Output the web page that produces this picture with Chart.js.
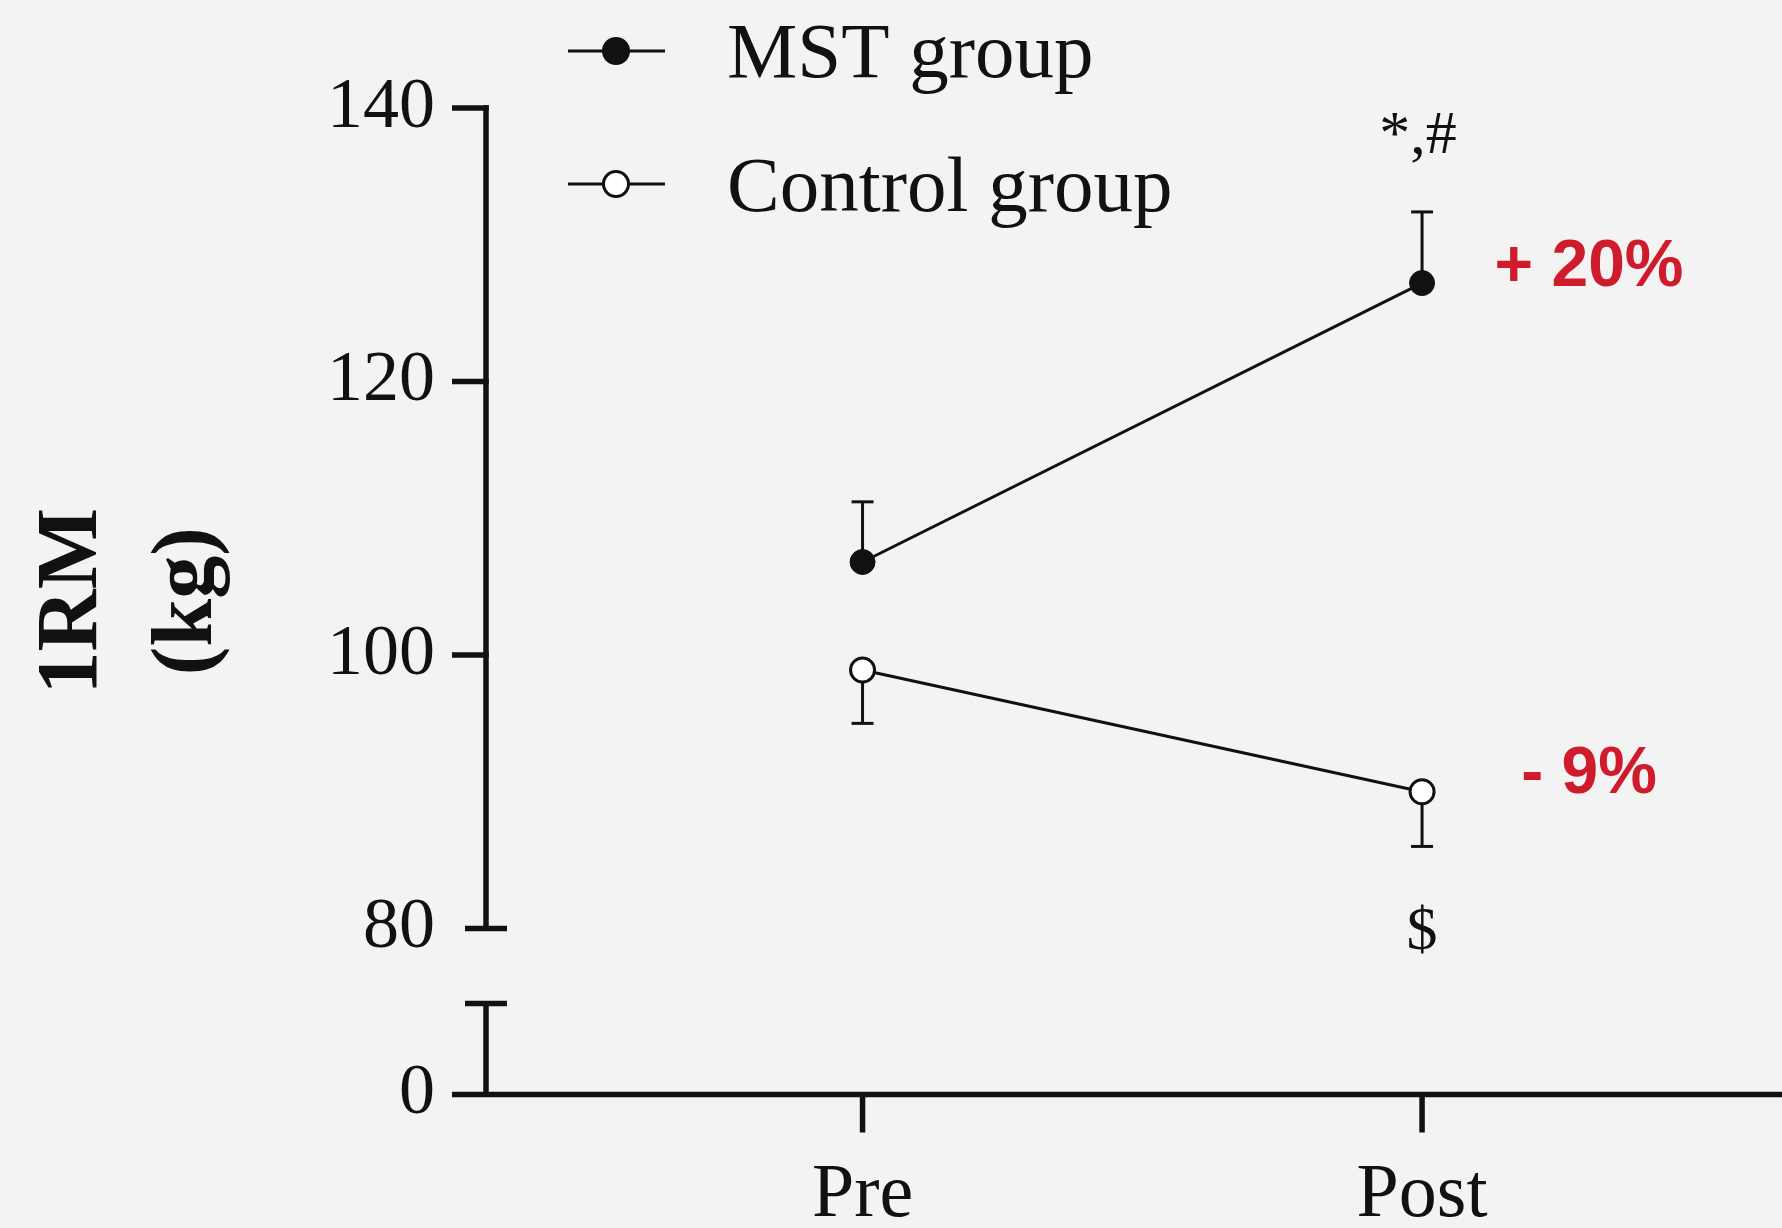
<!DOCTYPE html>
<html><head><meta charset="utf-8">
<script src="https://cdn.jsdelivr.net/npm/chart.js@4"></script>
<style>html,body{margin:0;padding:0;background:#f3f3f3;overflow:hidden}#wrap{width:1782px;height:1228px}</style>
</head><body><div id="wrap"><canvas id="c" width="1782" height="1228"></canvas></div>
<script>
const categories = ['Pre', 'Post'];
const mstMean = [106.8, 127.2];
const mstSD = [4.4, 5.2];
const controlMean = [98.9, 90.0];
const controlSD = [3.9, 4.0];
const yTickValues = [80, 100, 120, 140];
const axisBaseValue = 67.86;   // value where the broken axis shows "0"
const breakTopValue = 74.52;   // top of the lower axis segment
const seriesNames = ['MST group', 'Control group'];
const changeLabels = ['+ 20%', '- 9%'];
const sigLabels = ['*,#', '$'];

const INK = '#111';
const RED = '#cf1b2b';

const decor = {
  id: 'decor',
  beforeDatasetsDraw(chart) {
    const ctx = chart.ctx, xs = chart.scales.x, ys = chart.scales.y;
    const ax = xs.left;
    ctx.save();
    ctx.strokeStyle = INK; ctx.lineCap = 'butt';
    ctx.lineWidth = 5.5;
    // upper y-axis segment
    ctx.beginPath();
    ctx.moveTo(ax, ys.getPixelForValue(140) - 2.75);
    ctx.lineTo(ax, ys.getPixelForValue(80));
    ctx.stroke();
    yTickValues.forEach(v => {
      const y = ys.getPixelForValue(v);
      ctx.beginPath();
      if (v === 80) { ctx.moveTo(ax - 21, y); ctx.lineTo(ax + 21, y); }
      else { ctx.moveTo(ax - 34, y); ctx.lineTo(ax + 2.75, y); }
      ctx.stroke();
    });
    // lower segment
    const yb = ys.getPixelForValue(breakTopValue), y0 = ys.getPixelForValue(axisBaseValue);
    ctx.beginPath(); ctx.moveTo(ax, yb); ctx.lineTo(ax, y0); ctx.stroke();
    ctx.beginPath(); ctx.moveTo(ax - 21, yb); ctx.lineTo(ax + 21, yb); ctx.stroke();
    // x axis
    ctx.beginPath(); ctx.moveTo(ax - 34, y0); ctx.lineTo(chart.width, y0); ctx.stroke();
    categories.forEach((c, i) => {
      const x = xs.getPixelForValue(i);
      ctx.beginPath(); ctx.moveTo(x, y0); ctx.lineTo(x, y0 + 38); ctx.stroke();
    });
    // error bars
    ctx.lineWidth = 3;
    const errs = [[mstMean, mstSD, -1], [controlMean, controlSD, 1]];
    errs.forEach(([m, sd, dir]) => {
      m.forEach((v, i) => {
        const x = xs.getPixelForValue(i);
        const y1 = ys.getPixelForValue(v);
        const y2 = ys.getPixelForValue(v - dir * sd[i]);
        ctx.beginPath(); ctx.moveTo(x, y1); ctx.lineTo(x, y2); ctx.stroke();
        ctx.beginPath(); ctx.moveTo(x - 11, y2); ctx.lineTo(x + 11, y2); ctx.stroke();
      });
    });
    ctx.restore();
  },
  afterDraw(chart) {
    const ctx = chart.ctx, xs = chart.scales.x, ys = chart.scales.y;
    ctx.save();
    const xp = xs.getPixelForValue(1);
    // percentage labels
    ctx.fillStyle = RED;
    ctx.font = 'bold 66px "Liberation Sans", Arial, sans-serif';
    ctx.textAlign = 'center'; ctx.textBaseline = 'middle';
    ctx.fillText(changeLabels[0], xp + 167, ys.getPixelForValue(mstMean[1]) - 15);
    ctx.fillText(changeLabels[1], xp + 167, ys.getPixelForValue(controlMean[1]) - 17);
    // significance
    ctx.fillStyle = INK;
    ctx.font = '62px "Liberation Serif", "Times New Roman", serif';
    ctx.textBaseline = 'alphabetic';
    ctx.fillText(sigLabels[0], xp - 4, ys.getPixelForValue(mstMean[1] + mstSD[1]) - 59);
    ctx.textBaseline = 'middle';
    ctx.fillText(sigLabels[1], xp, ys.getPixelForValue(controlMean[1] - controlSD[1]) + 86);
    // legend
    const rows = [[77, 51, true], [211, 184, false]];
    rows.forEach(([base, my, filled], k) => {
      ctx.strokeStyle = INK; ctx.lineWidth = 3;
      ctx.beginPath(); ctx.moveTo(568, my); ctx.lineTo(665, my); ctx.stroke();
      ctx.beginPath(); ctx.arc(616, my, 12.5, 0, Math.PI * 2);
      ctx.fillStyle = filled ? INK : '#ffffff'; ctx.fill(); ctx.stroke();
      ctx.fillStyle = INK;
      ctx.font = '79px "Liberation Serif", "Times New Roman", serif';
      ctx.textAlign = 'left'; ctx.textBaseline = 'alphabetic';
      ctx.fillText(seriesNames[k], 727, base);
    });
    ctx.restore();
  }
};

new Chart(document.getElementById('c'), {
  type: 'line',
  data: {
    datasets: [
      {
        label: seriesNames[0],
        data: mstMean.map((v, i) => ({x: i, y: v})),
        borderColor: INK, borderWidth: 3, tension: 0,
        pointRadius: 12.5, pointBackgroundColor: INK, pointBorderColor: INK, pointBorderWidth: 1
      },
      {
        label: seriesNames[1],
        data: controlMean.map((v, i) => ({x: i, y: v})),
        borderColor: INK, borderWidth: 3, tension: 0,
        pointRadius: 12, pointBackgroundColor: '#ffffff', pointBorderColor: INK, pointBorderWidth: 3
      }
    ]
  },
  options: {
    responsive: false, animation: false, devicePixelRatio: 1,
    layout: {padding: {top: 108, left: 0, right: 0, bottom: 0}},
    plugins: {legend: {display: false}, tooltip: {enabled: false}},
    scales: {
      x: {
        type: 'linear', min: -0.673, max: 1.6165,
        afterBuildTicks: s => { s.ticks = categories.map((_, i) => ({value: i})); },
        afterFit: s => { s.height = 133.5; },
        ticks: {
          callback: v => categories[v], autoSkip: false, maxRotation: 0,
          font: {family: '"Liberation Serif", "Times New Roman", serif', size: 76},
          color: INK, padding: 56
        },
        grid: {display: false, drawTicks: false},
        border: {display: false}
      },
      y: {
        type: 'linear', min: axisBaseValue, max: 140,
        afterBuildTicks: s => { s.ticks = [axisBaseValue, ...yTickValues].map(v => ({value: v})); },
        afterFit: s => { s.width = 486; },
        ticks: {
          callback: v => (v < 79 ? '0' : String(v)), autoSkip: false,
          font: {family: '"Liberation Serif", "Times New Roman", serif', size: 72},
          color: INK, padding: 51
        },
        grid: {display: false, drawTicks: false},
        border: {display: false},
        title: {
          display: true, text: ['1RM', '(kg)'], color: INK,
          font: {family: '"Liberation Serif", "Times New Roman", serif', size: 86, weight: 'bold', lineHeight: 1.33},
          padding: {top: 17, bottom: 0}
        }
      }
    }
  },
  plugins: [decor]
});
</script></body></html>
